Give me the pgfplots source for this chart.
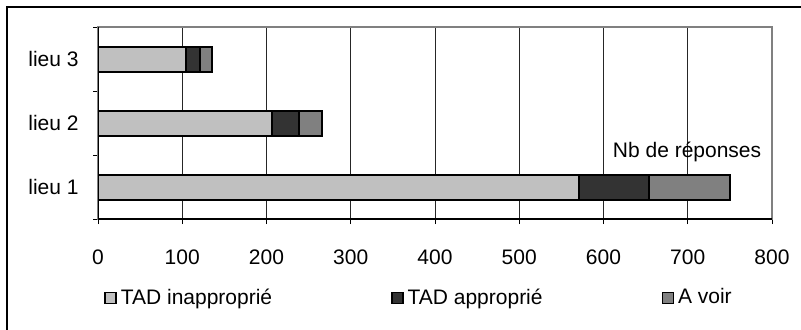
\documentclass[border=0pt]{standalone}
\usepackage{pgfplots}
\pgfplotsset{compat=1.18}
\usepackage{fontspec}
\setmainfont{Liberation Sans}
\definecolor{cLight}{HTML}{C0C0C0}
\definecolor{cDark}{HTML}{333333}
\definecolor{cMid}{HTML}{808080}
\begin{document}
\fontsize{10.5pt}{12.6pt}\selectfont
\begin{tikzpicture}
\useasboundingbox (-49pt,-55pt) rectangle (351.5pt,109.5pt);
\draw[line width=0.75pt] (-45.5pt,-60pt) -- (-45.5pt,106pt) -- (360pt,106pt);
\begin{axis}[
    scale only axis,
    width=337pt, height=96pt,
    xbar stacked,
    bar width=12.5pt,
    xmin=0, xmax=800,
    ymin=0.5, ymax=3.5,
    xtick={0,100,...,800},
    ytick={1,2,3},
    yticklabels={lieu 1,lieu 2,lieu 3},
    minor ytick={0.5,1.5,2.5,3.5},
    xtick pos=bottom, ytick pos=left,
    tick align=outside,
    major tick length=2.5pt,
    minor tick length=2.5pt,
    every major y tick/.style={draw=none},
    every minor y tick/.style={black, line width=0.5pt},
    every major x tick/.style={black, line width=0.5pt},
    xmajorgrids,
    major grid style={black!85, line width=0.5pt},
    axis line style={draw=gray, line width=1pt},
    /pgf/number format/assume math mode=true,
    xticklabel style={yshift=-9pt},
    yticklabel style={xshift=-3.5pt},
    legend columns=3,
    legend style={draw=none, fill=none, at={(0.009,-0.411)}, anchor=west,
        inner sep=0pt,
        /tikz/every even column/.append style={column sep=57.5pt}},
    sqleg/.style={legend image code/.code={
        \draw[##1, line width=0.7pt] (0pt,-2.75pt) rectangle (5.5pt,2.75pt);}},
]
\addplot[fill=cLight, draw=black, line width=1pt, sqleg]
    coordinates {(571,1) (207,2) (105,3)};
\addplot[fill=cDark, draw=black, line width=1pt, sqleg]
    coordinates {(83,1) (31,2) (16,3)};
\addplot[fill=cMid, draw=black, line width=1pt, sqleg]
    coordinates {(96,1) (28,2) (14,3)};
\legend{TAD inapproprié, TAD approprié, A voir}
\draw[black, line width=0.6pt] (rel axis cs:0,1) -- (rel axis cs:0,0) -- (rel axis cs:1,0);
\node at (rel axis cs:0.874,0.349) {Nb de réponses};
\end{axis}
\end{tikzpicture}
\end{document}
